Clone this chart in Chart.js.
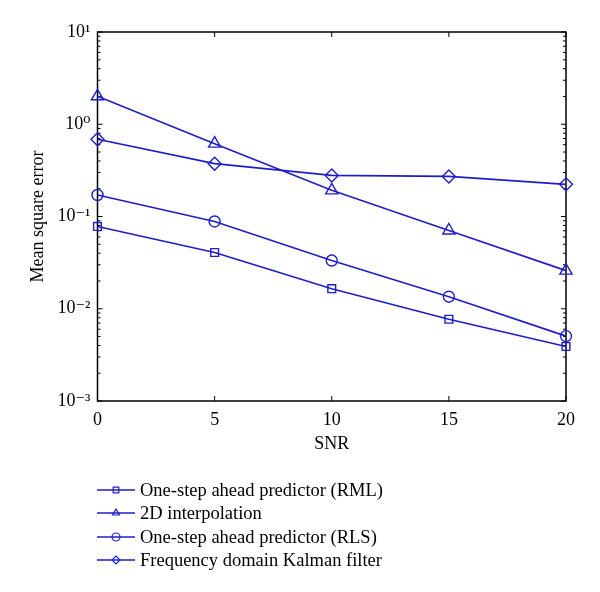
<!DOCTYPE html>
<html><head><meta charset="utf-8">
<script src="https://cdn.jsdelivr.net/npm/chart.js@4/dist/chart.umd.min.js"></script>
<style>html,body{margin:0;padding:0;background:#fff}#wrap{width:600px;height:592px}</style>
</head><body><div id="wrap"><canvas id="c" width="600" height="592"></canvas></div>
<script>
const snr = [0, 5, 10, 15, 20];
const rml = [0.078, 0.0407, 0.0165, 0.0077, 0.0039];
const interp2d = [2.01, 0.616, 0.192, 0.0705, 0.0259];
const rls = [0.171, 0.0883, 0.0333, 0.0135, 0.00505];
const kalman = [0.687, 0.374, 0.279, 0.272, 0.223];
const seriesLabels = ['One-step ahead predictor (RML)', '2D interpolation', 'One-step ahead predictor (RLS)', 'Frequency domain Kalman filter'];
const seriesStyles = ['rect', 'triangle', 'circle', 'rectRot'];
const xTicks = [0, 5, 10, 15, 20];
const yMajor = [1e-3, 1e-2, 1e-1, 1e0, 1e1];
const yMajorLabels = ['10\u207B\u00B3', '10\u207B\u00B2', '10\u207B\u00B9', '10\u2070', '10\u00B9'];

const BLUE = '#1e1ec8';
const FONT = "'Liberation Serif', 'DejaVu Serif', serif";
const radii = [5.5, 7, 5.5, 6.5];

const allSeries = [rml, interp2d, rls, kalman];
const datasets = allSeries.map((vals, i) => ({
  label: seriesLabels[i],
  data: snr.map((x, j) => ({x: x, y: vals[j]})),
  borderColor: BLUE,
  backgroundColor: 'rgba(0,0,0,0)',
  borderWidth: 1.6,
  pointStyle: seriesStyles[i],
  pointRadius: radii[i],
  pointBorderWidth: 1.4,
  pointBorderColor: BLUE,
  pointBackgroundColor: 'rgba(0,0,0,0)',
  clip: false,
  tension: 0
}));

const framePlugin = {
  id: 'frame',
  beforeDatasetsDraw(chart) {
    const {ctx, chartArea: a, scales} = chart;
    const xs = scales.x, ys = scales.y;
    ctx.save();
    ctx.strokeStyle = '#000';
    ctx.lineWidth = 1.5;
    ctx.strokeRect(a.left, a.top, a.right - a.left, a.bottom - a.top);
    ctx.lineWidth = 1;
    xTicks.forEach(v => {
      const px = xs.getPixelForValue(v);
      ctx.beginPath();
      ctx.moveTo(px, a.bottom); ctx.lineTo(px, a.bottom - 5);
      ctx.moveTo(px, a.top); ctx.lineTo(px, a.top + 5);
      ctx.stroke();
    });
    for (let e = -3; e <= 1; e++) {
      for (let m = 1; m <= 9; m++) {
        const v = m * Math.pow(10, e);
        if (v > 10.0001) continue;
        const py = ys.getPixelForValue(v);
        const len = (m === 1) ? 5 : 3;
        ctx.beginPath();
        ctx.moveTo(a.left, py); ctx.lineTo(a.left + len, py);
        ctx.moveTo(a.right, py); ctx.lineTo(a.right - len, py);
        ctx.stroke();
      }
    }
    ctx.restore();
  }
};

const legendPlugin = {
  id: 'customLegend',
  afterDraw(chart) {
    const ctx = chart.ctx;
    const x0 = 97, x1 = 135, tx = 140;
    const rows = [490, 513, 537, 560];
    ctx.save();
    ctx.font = "18.5px " + FONT;
    ctx.textBaseline = 'middle';
    chart.data.datasets.forEach((ds, i) => {
      const y = rows[i];
      ctx.strokeStyle = BLUE;
      ctx.lineWidth = 1.5;
      ctx.beginPath(); ctx.moveTo(x0, y); ctx.lineTo(x1, y); ctx.stroke();
      ctx.lineWidth = 1.2;
      ctx.fillStyle = 'rgba(0,0,0,0)';
      Chart.helpers.drawPoint(ctx, {pointStyle: ds.pointStyle, radius: 4, borderWidth: 1.2}, (x0 + x1) / 2, y);
      ctx.fillStyle = '#000';
      ctx.fillText(ds.label, tx, y + 1);
    });
    ctx.restore();
  }
};

new Chart(document.getElementById('c'), {
  type: 'line',
  data: {datasets: datasets},
  plugins: [framePlugin, legendPlugin],
  options: {
    responsive: false,
    animation: false,
    devicePixelRatio: 1,
    layout: {padding: {left: 0, right: 34, top: 32, bottom: 131}},
    plugins: {legend: {display: false}, tooltip: {enabled: false}},
    scales: {
      x: {
        type: 'linear', min: 0, max: 20,
        afterFit(s) { s.height = 60; },
        afterBuildTicks(s) { s.ticks = xTicks.map(v => ({value: v})); },
        grid: {display: false, drawTicks: false},
        border: {display: false},
        ticks: {color: '#000', font: {family: FONT, size: 18}, padding: 8},
        title: {display: true, text: 'SNR', color: '#000', font: {family: FONT, size: 18}, padding: {top: 0, bottom: 6}}
      },
      y: {
        type: 'logarithmic', min: 1e-3, max: 10,
        afterFit(s) { s.width = 97.5; },
        afterBuildTicks(s) { s.ticks = yMajor.map(v => ({value: v})); },
        grid: {display: false, drawTicks: false},
        border: {display: false},
        ticks: {color: '#000', font: {family: FONT, size: 18}, padding: 7, autoSkip: false,
          callback: (v) => { const i = yMajor.findIndex(m => Math.abs(m - v) / m < 1e-6); return i >= 0 ? yMajorLabels[i] : ''; }},
        title: {display: true, text: 'Mean square error', color: '#000', font: {family: FONT, size: 18}, padding: {top: 27, bottom: 0}}
      }
    }
  }
});
</script></body></html>
